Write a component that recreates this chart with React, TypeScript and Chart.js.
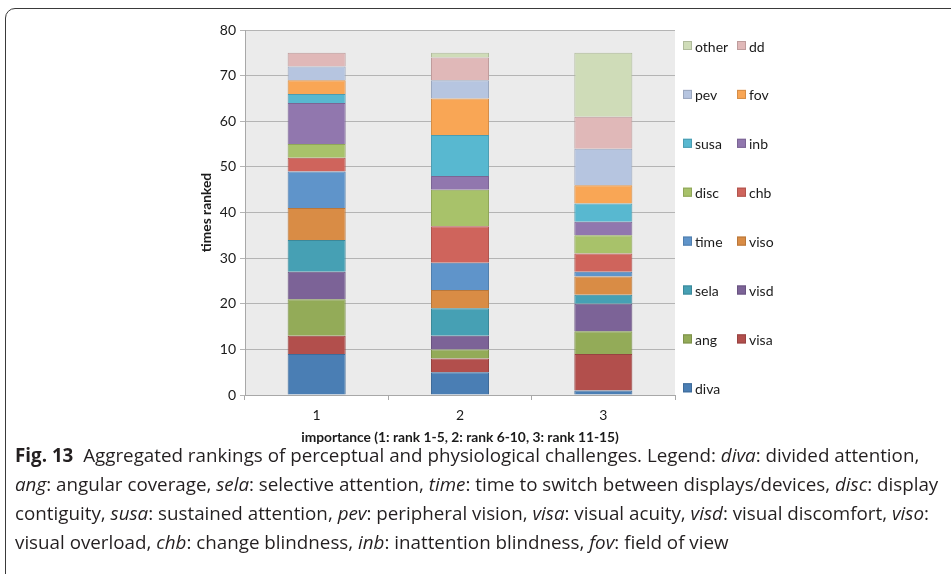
import React, { useEffect, useRef } from "react";
import { Chart, registerables } from "chart.js";

Chart.register(...registerables);

const categories = ["1", "2", "3"];
const seriesNames = ["diva", "visa", "ang", "visd", "sela", "viso", "time", "chb", "disc", "inb", "susa", "fov", "pev", "dd", "other"];
const diva = [9, 5, 1];
const visa = [4, 3, 8];
const ang = [8, 2, 5];
const visd = [6, 3, 6];
const sela = [7, 6, 2];
const viso = [7, 4, 4];
const time = [8, 6, 1];
const chb = [3, 8, 4];
const disc = [3, 8, 4];
const inb = [9, 3, 3];
const susa = [2, 9, 4];
const fov = [3, 8, 4];
const pev = [3, 4, 8];
const dd = [3, 5, 7];
const other = [0, 1, 14];
const seriesValues = [diva, visa, ang, visd, sela, viso, time, chb, disc, inb, susa, fov, pev, dd, other];
const yTicks = [0, 10, 20, 30, 40, 50, 60, 70, 80];

const colors = ["#4a7eb4", "#b24f4c", "#93ab58", "#7c6397", "#46a0b4", "#d98c45", "#5f94ca", "#cf645c", "#a8c26a", "#9177ae", "#58b8d0", "#f9a655", "#b6c5e0", "#e0b8b8", "#cfdcb8"];

function darken(hex: string, f: number) {
  const n = parseInt(hex.slice(1), 16);
  const r = Math.round(((n >> 16) & 255) * f);
  const g = Math.round(((n >> 8) & 255) * f);
  const b = Math.round((n & 255) * f);
  return `rgb(${r},${g},${b})`;
}

const FONT = "Lato, 'Open Sans', sans-serif";

const plotBg = {
  id: "plotBg",
  beforeDraw(chart: any) {
    const { ctx, chartArea } = chart;
    ctx.save();
    ctx.fillStyle = "#ebebeb";
    ctx.fillRect(chartArea.left, chartArea.top, chartArea.right - chartArea.left, chartArea.bottom - chartArea.top);
    ctx.restore();
  },
};

const gridLegend = {
  id: "gridLegend",
  afterDraw(chart: any) {
    const { ctx, chartArea } = chart;
    const ds = chart.data.datasets.slice().reverse();
    ctx.save();
    ctx.font = `14px ${FONT}`;
    ctx.textBaseline = "middle";
    ctx.textAlign = "left";
    ds.forEach((d: any, k: number) => {
      const row = Math.floor(k / 2);
      const col = k % 2;
      const x = chartArea.right + 8 + col * 54;
      const y = chartArea.top + 16 + row * 48.9;
      ctx.fillStyle = d.backgroundColor;
      ctx.fillRect(x, y - 5, 9, 9);
      ctx.strokeStyle = d.borderColor;
      ctx.lineWidth = 1;
      ctx.strokeRect(x + 0.5, y - 4.5, 8, 8);
      ctx.fillStyle = "#1a1a1a";
      ctx.fillText(d.label, x + 12, y + 1);
    });
    ctx.restore();
  },
};

function ChartView() {
  const ref = useRef<HTMLCanvasElement>(null);
  useEffect(() => {
    if (!ref.current) return;
    const chart = new Chart(ref.current, {
      type: "bar",
      data: {
        labels: categories,
        datasets: seriesNames.map((name, i) => ({
          label: name,
          data: seriesValues[i],
          backgroundColor: colors[i],
          borderColor: darken(colors[i], 0.85),
          borderWidth: 1,
          barPercentage: 0.405,
          categoryPercentage: 1,
        })),
      },
      options: {
        animation: false,
        responsive: false,
        devicePixelRatio: 1,
        layout: { padding: { left: 195, right: 276, top: 30, bottom: 0 } },
        plugins: { legend: { display: false }, tooltip: { enabled: false } },
        scales: {
          x: {
            stacked: true,
            grid: { display: true, drawOnChartArea: false, drawTicks: true, tickLength: 5, color: "#a8a8a8", offset: true },
            border: { display: true, color: "#a8a8a8" },
            ticks: { color: "#1a1a1a", font: { family: FONT, size: 14 }, padding: 7 },
            title: {
              display: true,
              text: "importance (1: rank 1-5, 2: rank 6-10, 3: rank 11-15)",
              color: "#1a1a1a",
              font: { family: FONT, size: 13.8, weight: "bold" },
              padding: { top: 4, bottom: 6 },
            },
            afterFit: (s: any) => { s.height = 57; },
          },
          y: {
            stacked: true,
            min: 0,
            max: 80,
            afterBuildTicks: (s: any) => { s.ticks = yTicks.map((v) => ({ value: v })); },
            grid: { color: "#b4b4b4", tickLength: 5, lineWidth: 1 },
            border: { display: true, color: "#a8a8a8" },
            ticks: { color: "#1a1a1a", font: { family: FONT, size: 14 }, padding: 4 },
            title: {
              display: true,
              text: "times ranked",
              color: "#1a1a1a",
              font: { family: FONT, size: 13.8, weight: "bold" },
              padding: { top: 3, bottom: 4 },
            },
            afterFit: (s: any) => { s.width = 50; },
          },
        },
      },
      plugins: [plotBg, gridLegend],
    });
    return () => chart.destroy();
  }, []);
  return <canvas ref={ref} width={951} height={452} style={{ display: "block" }} />;
}

export default function App() {
  const it = (t: string) => <i>{t}</i>;
  return (
    <div style={{ position: "absolute", left: 0, top: 0, width: 951, height: 574, overflow: "hidden", background: "#fff" }}>
      <div style={{ position: "absolute", left: 5, top: 8, width: 1000, height: 620, border: "1.5px solid #3a3a3a", borderRadius: 10, boxSizing: "border-box" }} />
      <div style={{ position: "absolute", left: 0, top: 0 }}>
        <ChartView />
      </div>
      <div
        style={{
          position: "absolute",
          left: 15,
          top: 441,
          fontFamily: "'Open Sans', sans-serif",
          fontSize: 18.8,
          lineHeight: "29px",
          color: "#231f20",
          whiteSpace: "nowrap",
        }}
      >
        <b>Fig. 13</b>&nbsp; Aggregated rankings of perceptual and physiological challenges. Legend: {it("diva")}: divided attention,
        <br />
        {it("ang")}: angular coverage, {it("sela")}: selective attention, {it("time")}: time to switch between displays/devices, {it("disc")}: display
        <br />
        contiguity, {it("susa")}: sustained attention, {it("pev")}: peripheral vision, {it("visa")}: visual acuity, {it("visd")}: visual discomfort, {it("viso")}:
        <br />
        visual overload, {it("chb")}: change blindness, {it("inb")}: inattention blindness, {it("fov")}: field of view
      </div>
    </div>
  );
}
